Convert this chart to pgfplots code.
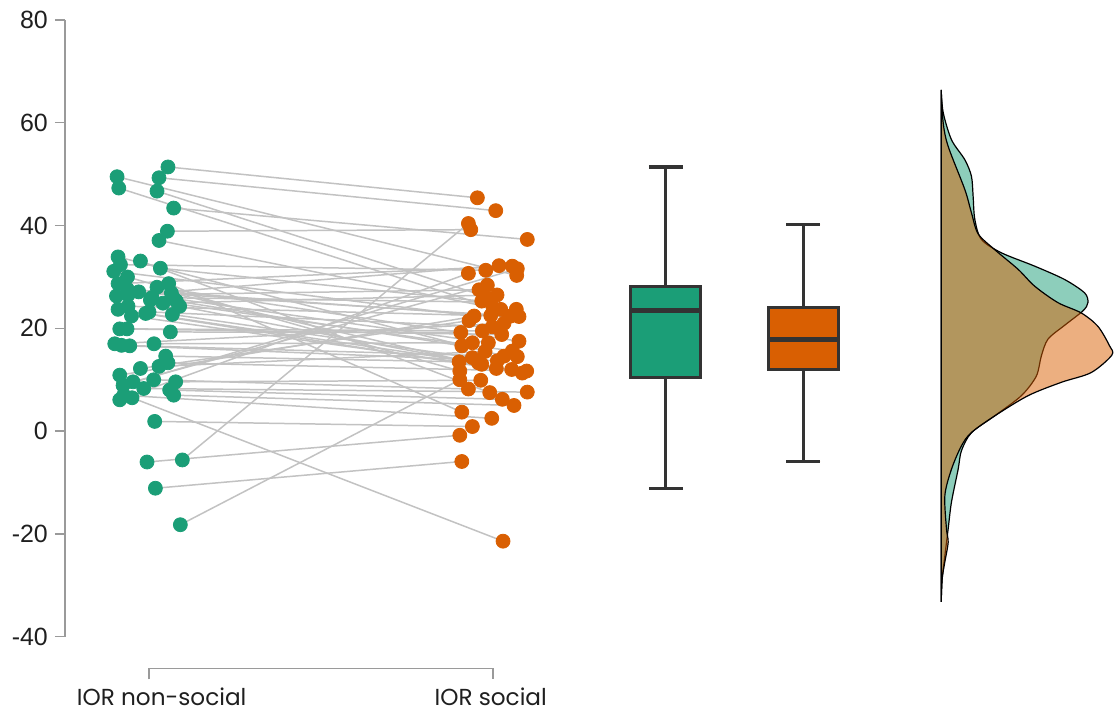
\documentclass[border=0pt]{standalone}
\usepackage{fontspec}
\setmainfont{Liberation Sans}
\newfontfamily\labfont{Poppins}
\usepackage{pgfplots}
\usepackage{pgfplotstable}
\pgfplotsset{compat=1.18}
\usepgfplotslibrary{statistics}
\definecolor{nsgreen}{HTML}{1B9E77}
\definecolor{sorange}{HTML}{D95F02}
\definecolor{linegray}{HTML}{C2C2C2}
\definecolor{boxgray}{HTML}{333333}
\definecolor{axisgray}{HTML}{9A9A9A}

\pgfplotstableread{
x1 y1 x2 y2
168.3 51.4 478.3 45.4
117.3 49.5 517.7 30.3
159.3 49.3 496.7 42.9
119.0 47.3 494.0 24.0
157.3 46.7 485.0 26.3
174.0 43.4 528.3 37.3
167.7 38.9 471.7 39.2
159.3 37.1 501.7 23.7
118.3 33.9 505.0 14.6
140.7 33.1 490.7 7.5
120.7 32.4 486.7 31.3
160.7 31.7 482.7 25.3
114.0 31.1 475.0 22.4
127.7 30.0 460.7 11.7
118.3 28.7 513.3 32.1
169.0 28.7 462.7 3.7
157.3 28.0 520.0 17.5
127.7 27.6 491.7 22.5
139.0 27.1 511.7 22.4
171.7 26.9 497.3 12.2
128.3 26.5 480.0 27.5
116.7 26.3 500.0 32.2
152.3 26.0 491.7 25.1
174.0 25.8 489.3 17.2
150.7 25.5 513.3 15.6
176.7 25.3 462.7 16.6
163.3 24.9 498.0 26.5
180.0 24.3 482.7 13.0
128.3 24.3 520.0 22.3
118.3 23.7 523.3 11.3
149.3 23.2 493.3 20.3
146.0 22.9 479.3 13.3
172.7 22.7 473.3 14.3
131.7 22.4 512.7 12.0
120.0 19.9 502.7 18.8
127.3 19.9 483.3 19.5
170.7 19.3 461.7 19.2
115.0 17.0 505.0 21.0
154.3 17.0 473.3 17.2
121.7 16.7 518.3 14.5
130.0 16.6 498.3 13.7
166.0 14.6 460.0 13.5
168.3 13.3 527.7 11.7
159.3 12.6 486.0 15.5
140.7 12.2 470.0 21.5
120.0 10.9 517.3 23.7
133.3 9.6 488.3 28.4
154.0 10.0 469.3 8.2
176.0 9.6 481.7 9.9
123.3 8.9 518.3 31.6
144.0 8.3 528.3 7.6
170.0 8.0 503.3 6.2
174.0 7.0 515.0 5.0
120.0 6.1 469.3 30.7
124.0 7.0 492.7 2.5
132.3 6.5 504.0 -21.4
155.0 1.9 473.3 0.9
182.7 -5.6 469.3 40.4
147.3 -6.0 460.7 -0.8
155.7 -11.1 462.7 -5.9
180.7 -18.2 460.7 10.0
}\pairs

\begin{document}
\begin{tikzpicture}
\begin{axis}[
  x=0.5pt, y=2.575pt,
  xmin=65, xmax=1115, ymin=-40, ymax=80,
  clip=false,
  axis y line*=left, axis x line=none,
  ytick={-40,-20,...,80},
  tick align=outside, major tick length=5pt,
  y axis line style={draw=axisgray, line width=0.7pt},
  ytick style={draw=axisgray, line width=0.7pt},
  yticklabel style={font=\fontsize{12.5}{14}\selectfont, text=black!88},
  /pgf/number format/assume math mode=true,
]
% bounding box matching the reference proportions
\path (axis cs:0,83.88) rectangle (axis cs:1115,-54.56);

% connecting lines
\addplot[draw=linegray, line width=0.75pt, mark=none,
  quiver={u=\thisrow{x2}-\thisrow{x1}, v=\thisrow{y2}-\thisrow{y1}}]
  table[x=x1, y=y1] {\pairs};

% points
\addplot[only marks, mark=*, mark size=3.5pt, color=nsgreen, mark options={draw=none, fill=nsgreen}]
  table[x=x1, y=y1] {\pairs};
\addplot[only marks, mark=*, mark size=3.5pt, color=sorange, mark options={draw=none, fill=sorange}]
  table[x=x2, y=y2] {\pairs};

% boxplots
\addplot[boxplot/draw direction=y,
  boxplot prepared={lower whisker=-11.1, lower quartile=10.5, median=23.4,
    upper quartile=28.1, upper whisker=51.4, draw position=667,
    box extend=70, whisker extend=34},
  fill=nsgreen, draw=boxgray, line width=1.6pt,
  boxplot/every median/.style={line width=2.6pt}] coordinates {};
\addplot[boxplot/draw direction=y,
  boxplot prepared={lower whisker=-5.9, lower quartile=12.0, median=17.9,
    upper quartile=24.1, upper whisker=40.2, draw position=805,
    box extend=70, whisker extend=34},
  fill=sorange, draw=boxgray, line width=1.6pt,
  boxplot/every median/.style={line width=2.6pt}] coordinates {};

% densities
\addplot[fill=nsgreen, fill opacity=0.5, draw=black, line width=0.6pt, smooth, tension=0.5] coordinates {
(943,66.4) (945,62.0) (953.3,56.7) (966.7,52.8) (973.3,49.6) (975,45.7) (976.7,41.2)
(983.3,37.3) (1003.3,34.7) (1036.7,32.1) (1066.7,29.5) (1086.7,26.9) (1090,25.0)
(1085,23.4) (1066.7,20.6) (1050,17.9) (1043.3,14.6) (1038.3,10.7) (1023.3,6.9)
(996.7,3.0) (973.3,-0.3) (963.3,-3.8) (960,-7.4) (953.3,-13.8) (950,-19.0)
(946.7,-24.2) (944,-28.7) (943,-33.2)
} -- cycle;
\addplot[fill=sorange, fill opacity=0.5, draw=black, line width=0.6pt, smooth, tension=0.5] coordinates {
(943,66.4) (945,60) (950,55.4) (966.7,47.0) (973.3,42.5) (980,38.4) (996.7,35.3)
(1020,31.5) (1036.7,28.2) (1060,25.0) (1083.3,23.0) (1100,20.4) (1111.7,16.6)
(1114,14.8) (1093.3,11.4) (1063.3,9.5) (1030,6.9) (996.7,2.98) (973.3,-0.26)
(963.3,-2.85) (953.3,-7.4) (946.7,-12.5) (948.3,-19.0) (950,-21.6) (946.7,-25.4)
(944,-28.7) (943,-33.2)
} -- cycle;

% x axis bracket
\draw[axisgray, line width=0.7pt] (axis cs:149.3,-48.3) -- (axis cs:149.3,-46.2) -- (axis cs:494,-46.2) -- (axis cs:494,-48.3);
\node[anchor=base, font=\labfont\fontsize{11.6}{14}\selectfont, text=black!88] at (axis cs:162,-53.34) {IOR non-social};
\node[anchor=base, font=\labfont\fontsize{11.6}{14}\selectfont, text=black!88] at (axis cs:491.7,-53.34) {IOR social};
\end{axis}
\end{tikzpicture}
\end{document}
